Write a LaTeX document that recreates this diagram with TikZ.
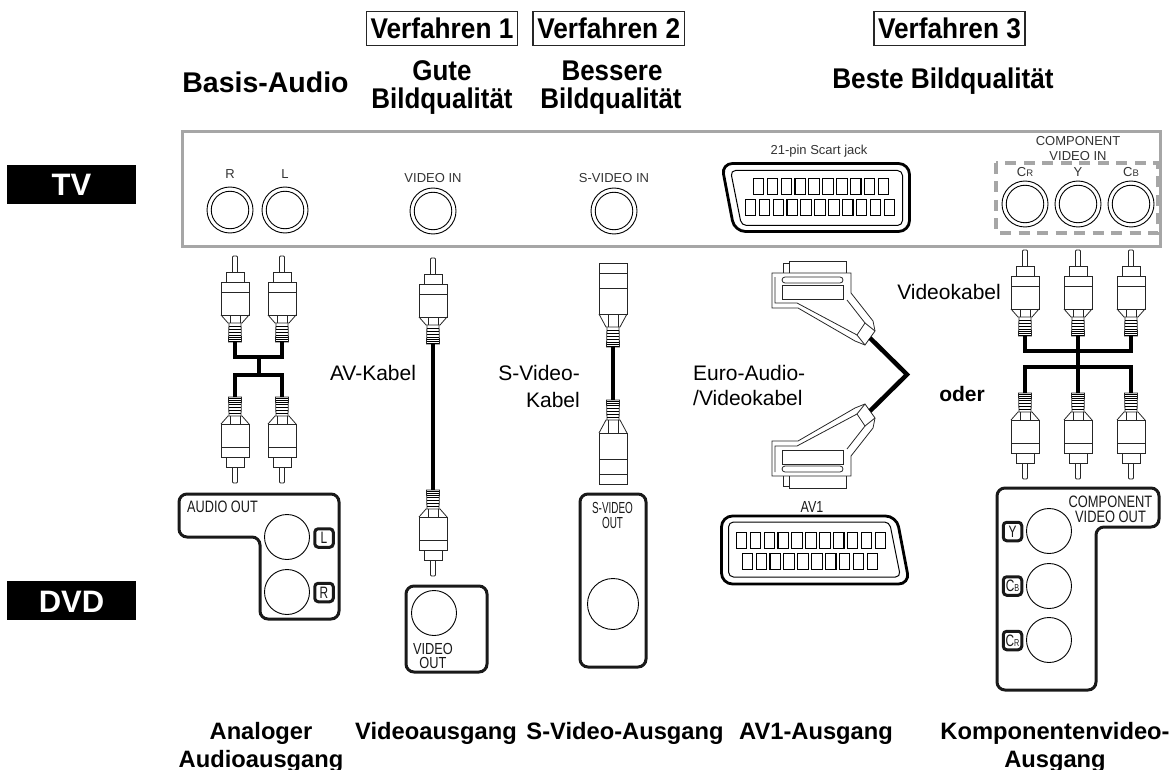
\documentclass[tikz,border=0pt]{standalone}
\usepackage{graphicx}
\usepackage{fontspec}
\setmainfont{Liberation Sans}
\newcommand\fsz[1]{\fontsize{#1}{#1}\selectfont}
\newcommand\cond[2][.72]{\scalebox{#1}[1]{#2}}
\tikzset{
  x=1pt,y=-1pt,
  head/.style={anchor=base,inner sep=0pt,font=\fsz{28.5}\bfseries},
  foot/.style={anchor=base,inner sep=0pt,font=\fsz{23.7}\bfseries},
  reg/.style={anchor=base,inner sep=0pt,font=\fsz{21}},
  tvlab/.style={anchor=base,inner sep=0pt,font=\fsz{13},text=black!80},
  devlab/.style={anchor=base,inner sep=0pt,font=\fsz{16.5},text=black!90},
  verf/.style={draw=black!85,line width=1.1pt,minimum height=34pt,inner sep=0pt,anchor=center},
  side/.style={fill=black,text=white,minimum width=129pt,minimum height=39pt,inner sep=0pt},
  sock/.style={circle,draw=black,line width=.9pt,inner sep=0pt,minimum size=#1},
  tag/.style={draw=black!90,line width=3pt,rounded corners=3.5pt,inner sep=0pt,minimum size=18.5pt,font=\fsz{16.5},text=black!90},
  cable/.style={line width=4.5pt,line cap=butt,line join=miter},
  thin/.style={line width=.8pt,draw=black!85},
  devbox/.style={line width=3pt,draw=black!90,rounded corners=8pt},
}
% RCA plug: tip at (x,y), growing in direction dir; (name) is the cable end
\newcommand\rca[4]{%
\begin{scope}[shift={(#2,#3)},yscale=#4]
  \draw[thin,rounded corners=1pt] (-2.5,16)--(-2.5,0)--(2.5,0)--(2.5,16);
  \draw[thin] (-9,26)--(-9,16)--(9,16)--(9,26);
  \draw[thin] (-14,26) rectangle (14,59);
  \draw[thin] (-14,36)--(14,36);
  \draw[thin] (-14,59)--(-7,67)--(7,67)--(14,59);
  \draw[thin] (-5,59)--(-5,67) (5,59)--(5,67);
  \draw[thin] (-6,67)--(-6.5,86)--(6.5,86)--(6,67);
  \foreach \q in {70,73,76,79,81,83,85}{\draw[line width=.9pt] (-6.3,\q)--(6.3,\q);}
  \coordinate (#1) at (0,86);
\end{scope}}
% S-video plug
\newcommand\sv[4]{%
\begin{scope}[shift={(#2,#3)},yscale=#4]
  \draw[thin] (-14,0) rectangle (14,51);
  \draw[thin] (-14,10)--(14,10) (-14,25)--(14,25);
  \draw[thin] (-14,51)--(-7,64)--(7,64)--(14,51);
  \draw[thin] (-5,51)--(-5,64) (5,51)--(5,64);
  \draw[thin] (-6,64)--(-6.5,84)--(6.5,84)--(6,64);
  \foreach \q in {67,70,73,76,79,81,83}{\draw[line width=.9pt] (-6.3,\q)--(6.3,\q);}
  \coordinate (#1) at (0,84);
\end{scope}}
% Scart plug
\newcommand\scartplug[3]{%
\begin{scope}[shift={(0,#2)},yscale=#3]
  \draw[thin] (789,12)--(789,0)--(846,0)--(846,12);
  \draw[thin] (783,12)--(783,2)--(789,2);
  \draw[thin] (772,12)--(851,12)--(851,32)--(873,60)--(875,70)--(865,84)--(855,80)--(798,47)--(772,47)--cycle;
  \draw[thin,rounded corners=3pt] (782,16) rectangle (843,22);
  \draw[thin] (782,24) rectangle (843,38);
  \draw[thin] (775,16)--(775,42)--(797,42)--(857,74)--(865,62)--(847,39);
  \draw[thin] (857,74)--(865,84) (865,62)--(875,70);
  \coordinate (#1) at (870,77);
\end{scope}}
% Scart socket drawn about its centre
\newcommand\scartjack[3]{%
\begin{scope}[shift={(#1,#2)},rotate=#3]
  \draw[line width=2.8pt,draw=black,rounded corners=11pt] (-94,-34)--(94,-34)--(94,34)--(-81,34)--cycle;
  \draw[line width=1pt,draw=black,rounded corners=5pt] (-85,-27)--(87,-27)--(87,28)--(-74,28)--cycle;
  \foreach \i in {0,...,9}{\draw[line width=1.1pt] ({-62.2+13.9*\i},-19.3) rectangle ++(10.4,16);}
  \foreach \i in {0,...,10}{\draw[line width=1.1pt] ({-70.2+13.9*\i},1.7) rectangle ++(10.4,16);}
\end{scope}}
\begin{document}
\begin{tikzpicture}
\useasboundingbox (0,0) rectangle (1170,770);
% headings
\node[verf,minimum width=151pt] (v1) at (442,28.5) {};
\node[verf,minimum width=151.5pt] (v2) at (608.7,28.5) {};
\node[verf,minimum width=151pt] (v3) at (949.5,28.5) {};
\node[head] (v1t) at (442,39) {\cond[.92]{Verfahren 1}};
\node[head] (v2t) at (608.7,39) {\cond[.92]{Verfahren 2}};
\node[head] (v3t) at (949.5,39) {\cond[.92]{Verfahren 3}};
\node[head] (h0) at (265.5,93) {Basis-Audio};
\node[head] (h1a) at (442,81) {\cond[.91]{Gute}};
\node[head] (h1b) at (442,109) {\cond[.91]{Bildqualität}};
\node[head] (h2a) at (612,81) {\cond[.91]{Bessere}};
\node[head] (h2b) at (611,109) {\cond[.91]{Bildqualität}};
\node[head] (h3) at (943,89) {\cond[.92]{Beste Bildqualität}};
% side labels
\node[side] (tv) at (71.5,184.5) {};
\node[side] (dvd) at (71.5,600.5) {};
\node[anchor=base,inner sep=0pt,text=white,font=\fsz{31}\bfseries] (tvt) at (71.5,196) {TV};
\node[anchor=base,inner sep=0pt,text=white,font=\fsz{31}\bfseries] (dvdt) at (71.5,612) {DVD};
% TV panel
\draw[line width=3pt,draw=black!35!white,fill=none] (182,132) rectangle (1160,247);
\draw[line width=4.2pt,draw=black!35!white,dash pattern=on 11pt off 7.5pt] (996,163) rectangle (1158,233);
\foreach \n/\x/\y in {tr/230/210,tl/285/210,tvv/433/211,tvs/614/211,tcr/1025/204,tcy/1078/204,tcb/1131/204}{
  \node[sock=46pt] (\n) at (\x,\y) {};
  \node[sock=37.5pt] (\n i) at (\x,\y) {};
}
\node[tvlab] (lr) at (230,179) {R};
\node[tvlab] (ll) at (285,179) {L};
\node[tvlab] (lv) at (433,183) {VIDEO IN};
\node[tvlab] (ls) at (614,183) {S-VIDEO IN};
\node[tvlab] (lsc) at (819,155) {21-pin Scart jack};
\node[tvlab] (lc1) at (1078,146) {COMPONENT};
\node[tvlab] (lc2) at (1078,161) {VIDEO IN};
\node[tvlab] (lcr) at (1025,177) {C{\fsz{9.5}R}};
\node[tvlab] (lcy) at (1078,177) {Y};
\node[tvlab] (lcb) at (1131,177) {C{\fsz{9.5}B}};
\scartjack{815.5}{197.5}{0}
\scartjack{815.5}{550}{180}
% RCA audio
\rca{a1}{235}{256}{1}
\rca{a2}{282}{256}{1}
\rca{a3}{235}{483}{-1}
\rca{a4}{282}{483}{-1}
\coordinate (a5) at (259,357);
\coordinate (a6) at (259,375);
\draw[cable] (a1) |- (a5) -| (a2);
\draw[cable] (a5) -- (a6);
\draw[cable] (a3) |- (a6) -| (a4);
% video
\rca{b1}{433}{258}{1}
\rca{b2}{433}{576}{-1}
\draw[cable] (b1) -- (b2);
% S-video
\sv{c1}{613}{263}{1}
\sv{c2}{613}{484}{-1}
\draw[cable] (c1) -- (c2);
% scart
\scartplug{s1}{261}{1}
\scartplug{s2}{488}{-1}
\coordinate (sb) at (907,374.5);
\draw[cable] (s1) -- (sb) -- (s2);
% component
\rca{d1}{1025}{250}{1}
\rca{d2}{1078}{250}{1}
\rca{d3}{1131}{250}{1}
\rca{d4}{1025}{479}{-1}
\rca{d5}{1078}{479}{-1}
\rca{d6}{1131}{479}{-1}
\coordinate (d7) at (1078,351);
\coordinate (d8) at (1078,367);
\draw[cable] (d1) |- (d7) -| (d3);
\draw[cable] (d4) |- (d8) -| (d6);
\draw[cable] (d2) -- (d5);
% cable labels
\node[reg] (k1) at (373,380) {AV-Kabel};
\node[reg,anchor=base east] (k2) at (580,380) {S-Video-};
\node[reg,anchor=base east] (k3) at (580,407) {Kabel};
\node[reg,anchor=base west] (k4) at (693,380) {Euro-Audio-};
\node[reg,anchor=base west] (k5) at (693,405) {/Videokabel};
\node[reg,anchor=base east] (k6) at (1001,299) {Videokabel};
\node[anchor=base,inner sep=0pt,font=\fsz{21}\bfseries] (k7) at (962,401) {oder};
% audio out
\draw[devbox] (179,494)--(339,494)--(339,619)--(260,619)--(260,537)--(179,537)--cycle;
\node[devlab] (ao) at (222.5,512) {\cond[.77]{AUDIO OUT}};
\node[sock=45pt] (aol) at (287,537) {};
\node[sock=45pt] (aor) at (287,592) {};
\node[tag] (tl2) at (324,538) {\cond{L}};
\node[tag] (tr2) at (324,592.5) {\cond{R}};
% video out
\draw[devbox] (406,586) rectangle (487,672);
\node[sock=45pt] (vo) at (434,613) {};
\node[align=center,inner sep=0pt,font=\fontsize{16}{14}\selectfont,text=black!90] (vo1) at (433,655.5) {{\cond[.8]{VIDEO}}\\{\cond[.8]{OUT}}};
% S-video out
\draw[devbox] (580,494) rectangle (646,667);
\node[sock=51pt] (so) at (613,604) {};
\node[devlab,font=\fsz{16}] (so1) at (612.5,513) {\cond[.62]{S-VIDEO}};
\node[devlab,font=\fsz{16}] (so2) at (612.5,528) {\cond[.62]{OUT}};
% AV1
\node[tvlab,font=\fsz{16},text=black!90] (av1) at (812,512) {\cond[.78]{AV1}};
% component out
\draw[devbox] (997,488)--(1159,488)--(1159,527)--(1096,527)--(1096,690)--(997,690)--cycle;
\node[sock=45pt] (cy) at (1049,531) {};
\node[sock=45pt] (cb) at (1049,586) {};
\node[sock=45pt] (cr) at (1049,640) {};
\node[tag] (ty) at (1012.5,531.5) {\cond{Y}};
\node[tag] (tb) at (1012.5,586) {\cond{C{\fsz{10}B}}};
\node[tag] (tc) at (1012.5,640.5) {\cond{C{\fsz{10}R}}};
\node[devlab] (co1) at (1110.5,507) {\cond[.78]{COMPONENT}};
\node[devlab] (co2) at (1110.5,522) {\cond[.78]{VIDEO OUT}};
% footer
\node[foot] (f1) at (261,739) {Analoger};
\node[foot] (f2) at (261,767) {Audioausgang};
\node[foot] (f3) at (436,739) {Videoausgang};
\node[foot] (f4) at (625,739) {S-Video-Ausgang};
\node[foot] (f5) at (816,739) {AV1-Ausgang};
\node[foot] (f6) at (1055,739) {Komponentenvideo-};
\node[foot] (f7) at (1055,767) {Ausgang};
\end{tikzpicture}
\end{document}
